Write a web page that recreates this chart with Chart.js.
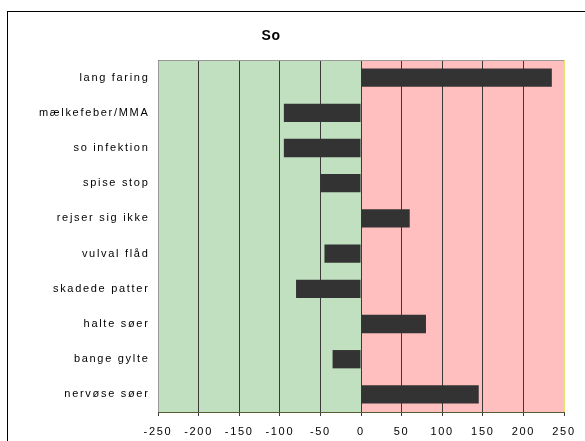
<!DOCTYPE html>
<html>
<head>
<meta charset="utf-8">
<script src="https://cdn.jsdelivr.net/npm/chart.js@4"></script>
<style>
  html, body { margin:0; padding:0; background:#fff; }
  #wrap { position:relative; width:585px; height:441px; overflow:hidden; }
  #frame { position:absolute; left:7px; top:11px; width:600px; height:460px; border:1px solid #000; box-sizing:border-box; }
  canvas { position:absolute; left:0; top:0; }
</style>
</head>
<body>
<div id="wrap">
  <div id="frame"></div>
  <canvas id="c" width="585" height="441"></canvas>
</div>
<script>
// data
const categories = ['lang faring','mælkefeber/MMA','so infektion','spise stop','rejser sig ikke',
  'vulval flåd','skadede patter','halte søer','bange gylte','nervøse søer'];
const values = [235, -95, -95, -50, 60, -45, -80, 80, -35, 145];
const xMin = -250, xMax = 250, xStep = 50;
const titleText = 'So';

const FONT = "'Liberation Sans', Arial, sans-serif";

// green / pink halves behind the grid, plot border and title on top
const bgHalves = {
  id: 'bgHalves',
  beforeDraw(chart) {
    const { ctx, chartArea: a, scales: { x } } = chart;
    const zero = x.getPixelForValue(0);
    ctx.save();
    ctx.fillStyle = '#c0e0c0';
    ctx.fillRect(a.left, a.top, zero - a.left, a.bottom - a.top);
    ctx.fillStyle = '#ffbfbf';
    ctx.fillRect(zero, a.top, a.right - zero, a.bottom - a.top);
    ctx.restore();
    ctx.letterSpacing = '1.7px';   // the reference text is spaced out
  },
  afterDraw(chart) {
    const { ctx, chartArea: a } = chart;
    ctx.save();
    ctx.strokeStyle = '#999';
    ctx.lineWidth = 1;
    ctx.beginPath();
    ctx.moveTo(a.left + 0.5, a.bottom); ctx.lineTo(a.left + 0.5, a.top + 0.5); ctx.lineTo(a.right, a.top + 0.5);
    ctx.stroke();
    ctx.strokeStyle = '#e8e070';
    ctx.beginPath(); ctx.moveTo(a.right + 0.5, a.top); ctx.lineTo(a.right + 0.5, a.bottom); ctx.stroke();
    ctx.letterSpacing = '0.5px';
    ctx.fillStyle = '#000';
    ctx.font = 'bold 14px ' + FONT;
    ctx.textAlign = 'center'; ctx.textBaseline = 'middle';
    ctx.fillText(titleText, 271, 36);
    ctx.restore();
  }
};

new Chart(document.getElementById('c'), {
  type: 'bar',
  data: {
    labels: categories,
    datasets: [{ data: values, backgroundColor: '#333333', borderWidth: 0,
      categoryPercentage: 1, barPercentage: 0.52 }]
  },
  options: {
    indexAxis: 'y',
    responsive: false,
    animation: false,
    layout: { padding: { top: 60, right: 21, left: 0, bottom: 0 } },
    plugins: { legend: { display: false }, title: { display: false }, tooltip: { enabled: false } },
    scales: {
      x: {
        min: xMin, max: xMax,
        ticks: { stepSize: xStep, color: '#000', font: { family: FONT, size: 11 }, padding: 9 },
        grid: { color: '#3a3a3a', lineWidth: 1, tickLength: 4, drawTicks: true },
        border: { display: true, color: '#555a30', width: 1 },
        afterFit(s) { s.height = 29; }
      },
      y: {
        ticks: { color: '#000', font: { family: FONT, size: 11 }, padding: 8.5 },
        grid: { display: false, drawTicks: false },
        border: { display: false },
        afterFit(s) { s.width = 158; }
      }
    }
  },
  plugins: [bgHalves]
});
</script>
</body>
</html>
